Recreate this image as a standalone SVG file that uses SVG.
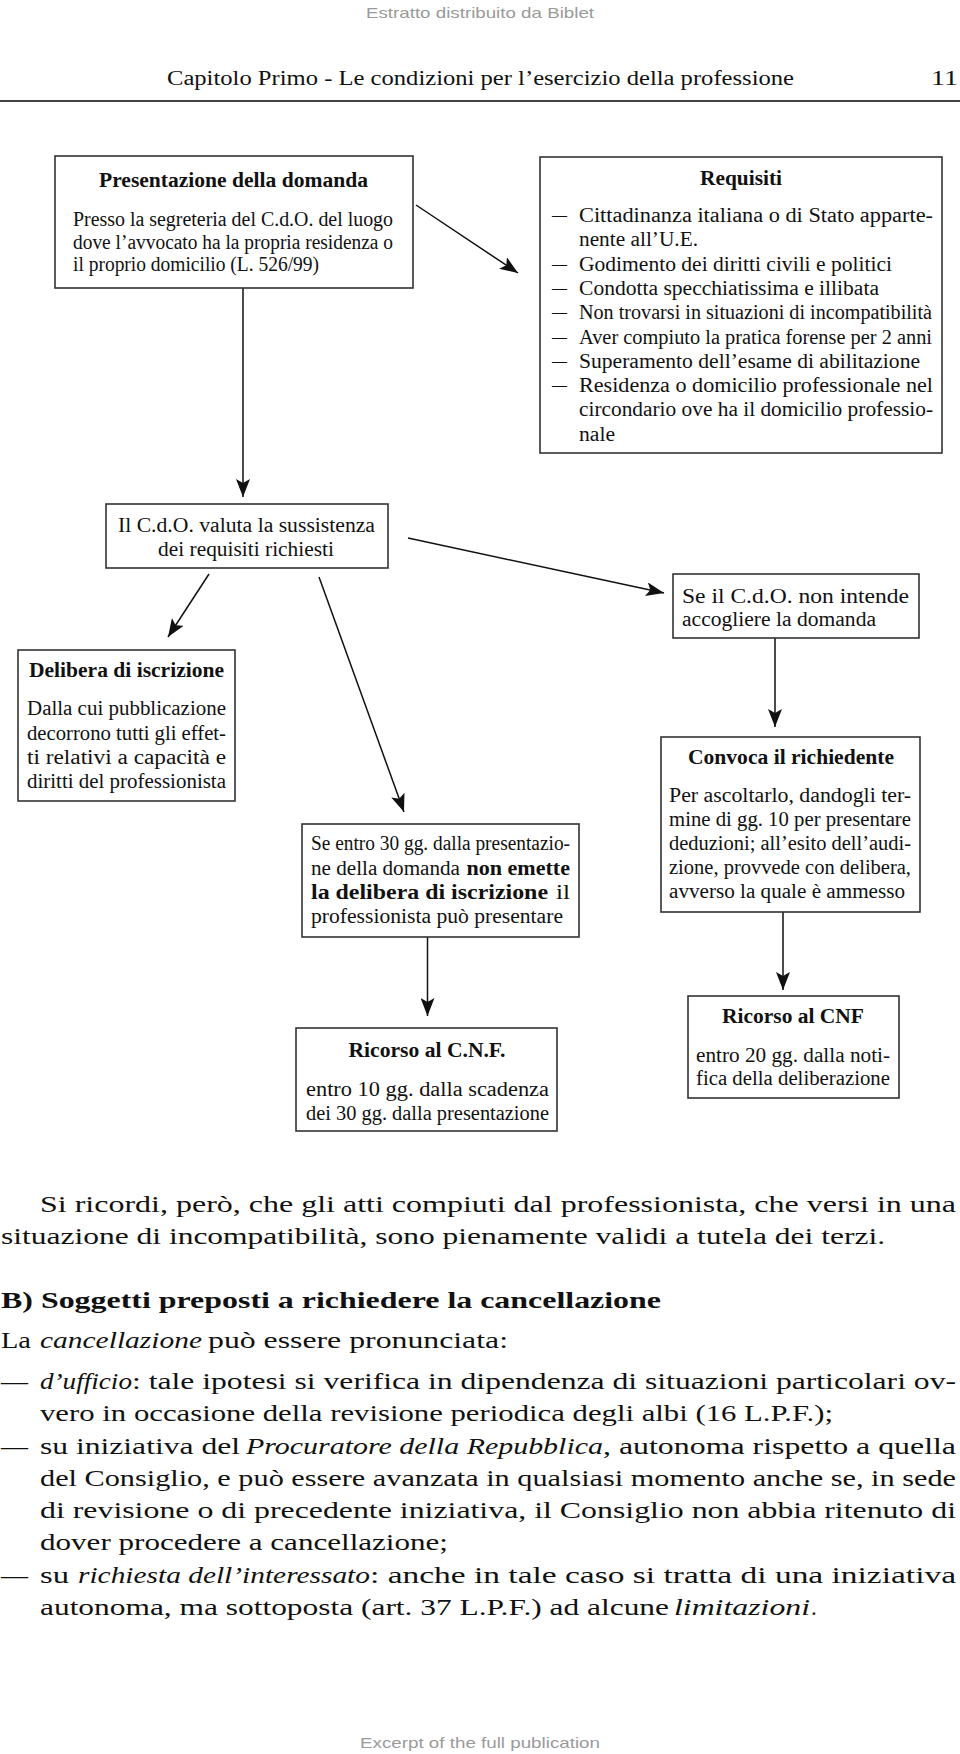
<svg xmlns="http://www.w3.org/2000/svg" width="960" height="1754" viewBox="0 0 960 1754">
<style>
.bg{fill:#fff}
.box{fill:#fff;stroke:#333;stroke-width:1.6}
.t{font-family:"Liberation Serif","Times New Roman",serif;font-size:20px;fill:#111}
.b{font-weight:bold}
.i{font-style:italic}
.body{font-family:"Liberation Serif","Times New Roman",serif;font-size:23px;fill:#111}
.hd{font-family:"Liberation Serif","Times New Roman",serif;font-size:20px;fill:#111}
.wm{font-family:"Liberation Sans",Arial,sans-serif;font-size:15px;fill:#9a9a9a}
.conn line{stroke:#111;stroke-width:1.5;fill:none}
</style>
<defs>
<marker id="ah" markerUnits="userSpaceOnUse" viewBox="0 0 18 14" refX="18" refY="7" markerWidth="18" markerHeight="14" orient="auto">
<path d="M0,0 L18,7 L0,14 L4,7 Z" fill="#111"/>
</marker>
</defs>
<rect class="bg" x="0" y="0" width="960" height="1754"/>

<g id="page-header">
<text class="wm" x="366" y="18" textLength="228" lengthAdjust="spacingAndGlyphs">Estratto distribuito da Biblet</text>
<text class="hd" x="167" y="85" textLength="627" lengthAdjust="spacingAndGlyphs">Capitolo Primo - Le condizioni per l’esercizio della professione</text>
<text class="hd" x="931" y="85" font-size="22" textLength="27" lengthAdjust="spacingAndGlyphs">11</text>
<line x1="0" y1="101" x2="960" y2="101" stroke="#444" stroke-width="2"/>
</g>

<g id="connectors" class="conn">
<line x1="416" y1="205" x2="518" y2="273" marker-end="url(#ah)"/>
<line x1="243" y1="288" x2="243" y2="497" marker-end="url(#ah)"/>
<line x1="209" y1="574" x2="168" y2="637" marker-end="url(#ah)"/>
<line x1="319" y1="577" x2="404" y2="812" marker-end="url(#ah)"/>
<line x1="408" y1="538" x2="664" y2="593" marker-end="url(#ah)"/>
<line x1="775" y1="638" x2="775" y2="727" marker-end="url(#ah)"/>
<line x1="427.5" y1="937" x2="427.5" y2="1016" marker-end="url(#ah)"/>
<line x1="783" y1="912" x2="783" y2="990" marker-end="url(#ah)"/>
</g>

<g id="presentazione">
<rect class="box" x="55" y="156" width="358" height="132"/>
<text class="t b" x="99" y="187" textLength="269" lengthAdjust="spacingAndGlyphs">Presentazione della domanda</text>
<text class="t" x="73" y="226" textLength="320" lengthAdjust="spacingAndGlyphs">Presso la segreteria del C.d.O. del luogo</text>
<text class="t" x="73" y="248.5" textLength="320" lengthAdjust="spacingAndGlyphs">dove l’avvocato ha la propria residenza o</text>
<text class="t" x="73" y="271" textLength="246" lengthAdjust="spacingAndGlyphs">il proprio domicilio (L. 526/99)</text>
</g>

<g id="requisiti">
<rect class="box" x="540" y="157" width="402" height="296"/>
<text class="t b" x="700" y="185" textLength="82" lengthAdjust="spacingAndGlyphs">Requisiti</text>
<text class="t" x="552" y="222" textLength="15" lengthAdjust="spacingAndGlyphs">—</text>
<text class="t" x="579" y="222" textLength="354" lengthAdjust="spacingAndGlyphs">Cittadinanza italiana o di Stato apparte-</text>
<text class="t" x="579" y="246.3" textLength="119" lengthAdjust="spacingAndGlyphs">nente all’U.E.</text>
<text class="t" x="552" y="270.6" textLength="15" lengthAdjust="spacingAndGlyphs">—</text>
<text class="t" x="579" y="270.6" textLength="313" lengthAdjust="spacingAndGlyphs">Godimento dei diritti civili e politici</text>
<text class="t" x="552" y="294.9" textLength="15" lengthAdjust="spacingAndGlyphs">—</text>
<text class="t" x="579" y="294.9" textLength="300" lengthAdjust="spacingAndGlyphs">Condotta specchiatissima e illibata</text>
<text class="t" x="552" y="319.2" textLength="15" lengthAdjust="spacingAndGlyphs">—</text>
<text class="t" x="579" y="319.2" textLength="353" lengthAdjust="spacingAndGlyphs">Non trovarsi in situazioni di incompatibilità</text>
<text class="t" x="552" y="343.5" textLength="15" lengthAdjust="spacingAndGlyphs">—</text>
<text class="t" x="579" y="343.5" textLength="353" lengthAdjust="spacingAndGlyphs">Aver compiuto la pratica forense per 2 anni</text>
<text class="t" x="552" y="367.8" textLength="15" lengthAdjust="spacingAndGlyphs">—</text>
<text class="t" x="579" y="367.8" textLength="341" lengthAdjust="spacingAndGlyphs">Superamento dell’esame di abilitazione</text>
<text class="t" x="552" y="392.1" textLength="15" lengthAdjust="spacingAndGlyphs">—</text>
<text class="t" x="579" y="392.1" textLength="354" lengthAdjust="spacingAndGlyphs">Residenza o domicilio professionale nel</text>
<text class="t" x="579" y="416.4" textLength="354" lengthAdjust="spacingAndGlyphs">circondario ove ha il domicilio professio-</text>
<text class="t" x="579" y="440.7" textLength="36" lengthAdjust="spacingAndGlyphs">nale</text>
</g>

<g id="valuta">
<rect class="box" x="106" y="504" width="282" height="64"/>
<text class="t" x="118" y="532" textLength="257" lengthAdjust="spacingAndGlyphs">Il C.d.O. valuta la sussistenza</text>
<text class="t" x="158" y="556" textLength="176" lengthAdjust="spacingAndGlyphs">dei requisiti richiesti</text>
</g>

<g id="delibera">
<rect class="box" x="18" y="650" width="217" height="151"/>
<text class="t b" x="29" y="677" textLength="195" lengthAdjust="spacingAndGlyphs">Delibera di iscrizione</text>
<text class="t" x="27" y="715" textLength="199" lengthAdjust="spacingAndGlyphs">Dalla cui pubblicazione</text>
<text class="t" x="27" y="739.5" textLength="199" lengthAdjust="spacingAndGlyphs">decorrono tutti gli effet-</text>
<text class="t" x="27" y="764" textLength="199" lengthAdjust="spacingAndGlyphs">ti relativi a capacità e</text>
<text class="t" x="27" y="788" textLength="199" lengthAdjust="spacingAndGlyphs">diritti del professionista</text>
</g>

<g id="non-accoglie">
<rect class="box" x="673" y="574" width="246" height="64"/>
<text class="t" x="682" y="603" textLength="227" lengthAdjust="spacingAndGlyphs">Se il C.d.O. non intende</text>
<text class="t" x="682" y="626" textLength="194" lengthAdjust="spacingAndGlyphs">accogliere la domanda</text>
</g>

<g id="convoca">
<rect class="box" x="661" y="737" width="259" height="175"/>
<text class="t b" x="688" y="764" textLength="206" lengthAdjust="spacingAndGlyphs">Convoca il richiedente</text>
<text class="t" x="669" y="802" textLength="242" lengthAdjust="spacingAndGlyphs">Per ascoltarlo, dandogli ter-</text>
<text class="t" x="669" y="826" textLength="242" lengthAdjust="spacingAndGlyphs">mine di gg. 10 per presentare</text>
<text class="t" x="669" y="850" textLength="242" lengthAdjust="spacingAndGlyphs">deduzioni; all’esito dell’audi-</text>
<text class="t" x="669" y="874" textLength="242" lengthAdjust="spacingAndGlyphs">zione, provvede con delibera,</text>
<text class="t" x="669" y="898" textLength="236" lengthAdjust="spacingAndGlyphs">avverso la quale è ammesso</text>
</g>

<g id="silenzio">
<rect class="box" x="302" y="824" width="277" height="113"/>
<text class="t" x="311" y="850" textLength="259" lengthAdjust="spacingAndGlyphs">Se entro 30 gg. dalla presentazio-</text>
<text class="t" x="311" y="875" textLength="149" lengthAdjust="spacingAndGlyphs">ne della domanda</text>
<text class="t b" x="466.5" y="875" textLength="103.5" lengthAdjust="spacingAndGlyphs">non emette</text>
<text class="t b" x="311" y="899" textLength="237" lengthAdjust="spacingAndGlyphs">la delibera di iscrizione</text>
<text class="t" x="556" y="899" textLength="14" lengthAdjust="spacingAndGlyphs">il</text>
<text class="t" x="311" y="923" textLength="252" lengthAdjust="spacingAndGlyphs">professionista può presentare</text>
</g>

<g id="ricorso-cnf-1">
<rect class="box" x="296" y="1028" width="261" height="103"/>
<text class="t b" x="348.5" y="1057" textLength="157" lengthAdjust="spacingAndGlyphs">Ricorso al C.N.F.</text>
<text class="t" x="306" y="1096" textLength="243" lengthAdjust="spacingAndGlyphs">entro 10 gg. dalla scadenza</text>
<text class="t" x="306" y="1120" textLength="243" lengthAdjust="spacingAndGlyphs">dei 30 gg. dalla presentazione</text>
</g>

<g id="ricorso-cnf-2">
<rect class="box" x="688" y="996" width="211" height="102"/>
<text class="t b" x="722" y="1023" textLength="142" lengthAdjust="spacingAndGlyphs">Ricorso al CNF</text>
<text class="t" x="696" y="1062" textLength="194" lengthAdjust="spacingAndGlyphs">entro 20 gg. dalla noti-</text>
<text class="t" x="696" y="1085" textLength="194" lengthAdjust="spacingAndGlyphs">fica della deliberazione</text>
</g>

<g id="body-text">
<text class="body" x="40" y="1212" textLength="916" lengthAdjust="spacingAndGlyphs">Si ricordi, però, che gli atti compiuti dal professionista, che versi in una</text>
<text class="body" x="1" y="1244" textLength="884" lengthAdjust="spacingAndGlyphs">situazione di incompatibilità, sono pienamente validi a tutela dei terzi.</text>
<text class="body b" x="1" y="1308" textLength="660" lengthAdjust="spacingAndGlyphs">B) Soggetti preposti a richiedere la cancellazione</text>
<text class="body" x="1" y="1348" textLength="30" lengthAdjust="spacingAndGlyphs">La</text>
<text class="body i" x="40" y="1348" textLength="162" lengthAdjust="spacingAndGlyphs">cancellazione</text>
<text class="body" x="208" y="1348" textLength="300" lengthAdjust="spacingAndGlyphs">può essere pronunciata:</text>
<text class="body" x="1" y="1389" textLength="27" lengthAdjust="spacingAndGlyphs">—</text>
<text class="body i" x="40" y="1389" textLength="92" lengthAdjust="spacingAndGlyphs">d’ufficio</text>
<text class="body" x="132" y="1389" textLength="824" lengthAdjust="spacingAndGlyphs">: tale ipotesi si verifica in dipendenza di situazioni particolari ov-</text>
<text class="body" x="40" y="1421" textLength="793" lengthAdjust="spacingAndGlyphs">vero in occasione della revisione periodica degli albi (16 L.P.F.);</text>
<text class="body" x="1" y="1454" textLength="27" lengthAdjust="spacingAndGlyphs">—</text>
<text class="body" x="40" y="1454" textLength="200" lengthAdjust="spacingAndGlyphs">su iniziativa del</text>
<text class="body i" x="246" y="1454" textLength="357" lengthAdjust="spacingAndGlyphs">Procuratore della Repubblica</text>
<text class="body" x="603" y="1454" textLength="353" lengthAdjust="spacingAndGlyphs">, autonoma rispetto a quella</text>
<text class="body" x="40" y="1486" textLength="916" lengthAdjust="spacingAndGlyphs">del Consiglio, e può essere avanzata in qualsiasi momento anche se, in sede</text>
<text class="body" x="40" y="1518" textLength="916" lengthAdjust="spacingAndGlyphs">di revisione o di precedente iniziativa, il Consiglio non abbia ritenuto di</text>
<text class="body" x="40" y="1550" textLength="408" lengthAdjust="spacingAndGlyphs">dover procedere a cancellazione;</text>
<text class="body" x="1" y="1583" textLength="27" lengthAdjust="spacingAndGlyphs">—</text>
<text class="body" x="40" y="1583" textLength="29" lengthAdjust="spacingAndGlyphs">su</text>
<text class="body i" x="78" y="1583" textLength="292" lengthAdjust="spacingAndGlyphs">richiesta dell’interessato</text>
<text class="body" x="370" y="1583" textLength="586" lengthAdjust="spacingAndGlyphs">: anche in tale caso si tratta di una iniziativa</text>
<text class="body" x="40" y="1615" textLength="629" lengthAdjust="spacingAndGlyphs">autonoma, ma sottoposta (art. 37 L.P.F.) ad alcune</text>
<text class="body i" x="674" y="1615" textLength="136" lengthAdjust="spacingAndGlyphs">limitazioni</text>
<text class="body" x="811" y="1615">.</text>
</g>

<g id="page-footer">
<text class="wm" x="360" y="1748" textLength="240" lengthAdjust="spacingAndGlyphs">Excerpt of the full publication</text>
</g>
</svg>
